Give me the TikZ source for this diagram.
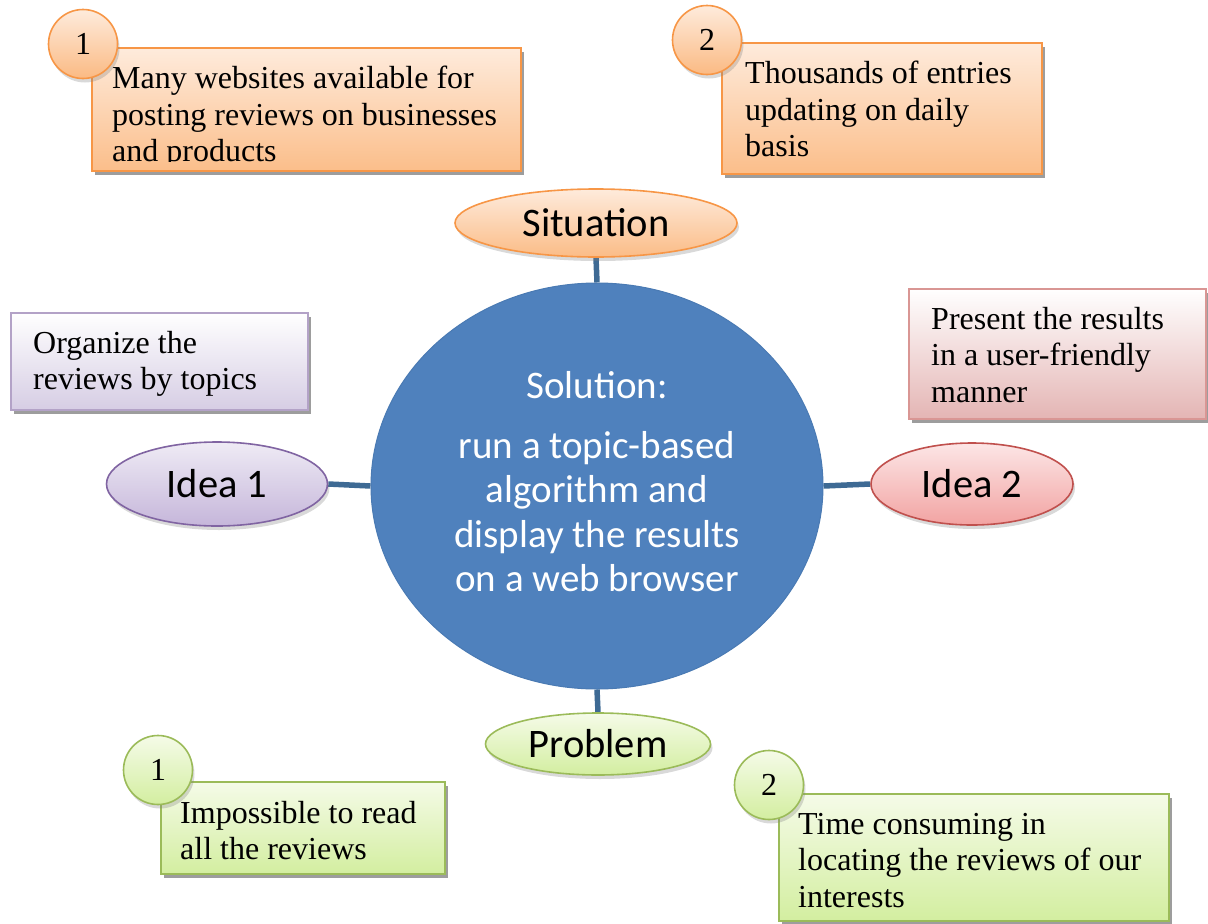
\documentclass[tikz,border=0pt]{standalone}
\usepackage{fontspec}
\setmainfont{Liberation Serif}
\newfontfamily\calibri{Carlito}
\usetikzlibrary{shadows,shapes.geometric,backgrounds}

\definecolor{orline}{HTML}{F79646}
\definecolor{ortop}{HTML}{FEEBDC}
\definecolor{orbot}{HTML}{FBBE8A}
\definecolor{puline}{HTML}{8064A2}
\definecolor{putop}{HTML}{EFEBF5}
\definecolor{pubot}{HTML}{C5B6DA}
\definecolor{puboxline}{HTML}{B3A2C7}
\definecolor{puboxbot}{HTML}{D6CDE4}
\definecolor{reline}{HTML}{C0504D}
\definecolor{retop}{HTML}{FCE6E6}
\definecolor{rebot}{HTML}{F2A3A2}
\definecolor{reboxline}{HTML}{D99694}
\definecolor{reboxbot}{HTML}{E4B5B4}
\definecolor{grline}{HTML}{9BBB59}
\definecolor{grtop}{HTML}{F5FBE8}
\definecolor{grbot}{HTML}{D3EEA0}
\definecolor{solfill}{HTML}{4F81BD}
\definecolor{solline}{HTML}{4A7AB3}
\definecolor{connc}{HTML}{3E6A94}

\begin{document}
\begin{tikzpicture}[x=1pt,y=-1pt,
  shadowed/.style={drop shadow={shadow xshift=3pt,shadow yshift=-4pt,fill=black!55,opacity=0.7}},
  softshadow/.style={drop shadow={shadow xshift=2pt,shadow yshift=-4pt,fill=black!50,opacity=0.3}},
  notebox/.style={rectangle,inner sep=0,anchor=north west,line width=1.6pt,shadowed},
  orangebox/.style={notebox,draw=orline,top color=ortop,bottom color=orbot},
  purplebox/.style={notebox,draw=puboxline,top color=white,bottom color=puboxbot},
  redbox/.style={notebox,draw=reboxline,top color=white,bottom color=reboxbot},
  greenbox/.style={notebox,draw=grline,top color=grtop,bottom color=grbot},
  notetext/.style={inner sep=0,anchor=north west,align=left,font=\fontsize{32}{36.5}\selectfont},
  badge/.style={circle,minimum size=69pt,inner sep=0,line width=1.6pt,softshadow,font=\fontsize{32}{36}\selectfont},
  orangebadge/.style={badge,draw=orline,top color=ortop,bottom color=orbot!90!orline},
  greenbadge/.style={badge,draw=grline,top color=grtop,bottom color=grbot},
  topic/.style={ellipse,inner sep=0,line width=1.6pt,softshadow,font=\calibri\fontsize{40.5}{44}\selectfont},
  conn/.style={draw=connc,line width=5.5pt}
]
\useasboundingbox (0,0) rectangle (1208,924);

% central solution disc
\node[ellipse,fill=solfill,draw=solline,line width=1pt,minimum width=452pt,minimum height=406pt,inner sep=0] (sol) at (597,486) {};
\node[inner sep=0,anchor=north,align=center,text=white,font=\calibri\fontsize{39}{44.5}\selectfont] (soltext) at (597,371)
  {Solution:\\[15.5pt]run a topic-based\\algorithm and\\display the results\\on a web browser};

% the four topics
\node[topic,draw=orline,top color=ortop,bottom color=orbot!95!orline,minimum width=282pt,minimum height=68pt] (sit) at (596,223) {Situation};
\node[topic,draw=puline,top color=putop,bottom color=pubot,minimum width=221pt,minimum height=84pt] (idea1) at (217,484) {Idea 1};
\node[topic,draw=reline,top color=retop,bottom color=rebot,minimum width=202pt,minimum height=82pt] (idea2) at (972,484) {Idea 2};
\node[topic,draw=grline,top color=grtop,bottom color=grbot,minimum width=225pt,minimum height=62pt] (prob) at (598,744) {Problem};

% spokes, kept behind the shapes
\begin{scope}[on background layer]
\draw[conn] (sit.south) -- (sol.north);
\draw[conn] (idea1.east) -- (sol.west);
\draw[conn] (sol.east) -- (idea2.west);
\draw[conn] (sol.south) -- (prob.north);
\end{scope}

% situation notes
\node[orangebox,minimum width=429pt,minimum height=123pt] (s1) at (91,47) {};
\begin{scope}
  \clip (91,47) rectangle (520,161);
  \node[notetext] (s1t) at (112,66) {Many websites available for\\posting reviews on businesses\\and products};
\end{scope}
\node[orangebadge] (s1n) at (83,44) {1};

\node[orangebox,minimum width=320pt,minimum height=131pt] (s2) at (721,42) {};
\node[notetext] (s2t) at (745,61) {Thousands of entries\\updating on daily\\basis};
\node[orangebadge] (s2n) at (707,40) {2};

% idea notes
\node[purplebox,minimum width=297pt,minimum height=97pt] (i1) at (10,312) {};
\node[notetext] (i1t) at (33,331) {Organize the\\reviews by topics};

\node[redbox,minimum width=297pt,minimum height=130pt] (i2) at (908,288) {};
\node[notetext] (i2t) at (931,307) {Present the results\\in a user-friendly\\manner};

% problem notes
\node[greenbox,minimum width=284pt,minimum height=92pt] (p1) at (160,781) {};
\node[notetext] (p1t) at (180,801) {Impossible to read\\all the reviews};
\node[greenbadge] (p1n) at (158,770) {1};

\node[greenbox,minimum width=390pt,minimum height=127pt] (p2) at (778,793) {};
\node[notetext] (p2t) at (798,813) {Time consuming in\\locating the reviews of our\\interests};
\node[greenbadge] (p2n) at (769,785) {2};
\end{tikzpicture}
\end{document}
